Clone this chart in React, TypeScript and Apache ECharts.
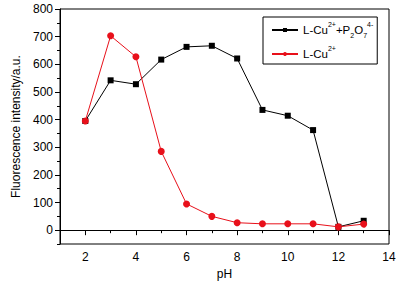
import React, { useEffect, useRef } from "react";
import * as echarts from "echarts";

const pH = [2, 3, 4, 5, 6, 7, 8, 9, 10, 11, 12, 13];
const withP2O7 = [395, 542, 528, 617, 663, 667, 621, 435, 414, 362, 12, 34];
const cuOnly = [395, 703, 627, 285, 95, 50, 27, 23, 23, 23, 12, 22];
const xMajor = [2, 4, 6, 8, 10, 12, 14];
const xMinor = [1, 3, 5, 7, 9, 11, 13];
const yMajor = [0, 100, 200, 300, 400, 500, 600, 700, 800];
const yMinor = [-50, 50, 150, 250, 350, 450, 550, 650, 750];
const nameA = "L-Cu2+ +P2O7 4-";
const nameB = "L-Cu2+";

export default function App() {
  const ref = useRef<HTMLDivElement>(null);
  useEffect(() => {
    if (!ref.current) return;
    const chart = echarts.init(ref.current, null, { renderer: "svg" });
    const font = "Liberation Sans, Arial, sans-serif";
    const axisCommon = {
      min: 1,
      max: 14,
      type: "value" as const,
    };
    chart.setOption({
      animation: false,
      textStyle: { fontFamily: font },
      grid: {
        left: 60,
        right: 19,
        top: 9,
        bottom: 41,
        show: true,
        borderColor: "#000",
        borderWidth: 1,
      },
      legend: {
        orient: "vertical",
        left: 263,
        top: 17,
        padding: [4, 4, 4, 8],
        itemGap: 6,
        itemWidth: 26,
        itemHeight: 5,
        backgroundColor: "#fff",
        borderColor: "#000",
        borderWidth: 1,
        borderRadius: 0,
        data: [nameA, nameB],
        formatter: (n: string) =>
          n === nameA
            ? "{b|L-Cu}{sup|2+}{b|+P}{sub|2}{b|O}{sub|7}{sup|4-}"
            : "{b|L-Cu}{sup|2+}",
        textStyle: {
          fontFamily: font,
          rich: {
            b: { fontSize: 11.5, lineHeight: 18, color: "#000", fontFamily: font },
            sup: { fontSize: 7, lineHeight: 9, verticalAlign: "top", color: "#000", fontFamily: font },
            sub: { fontSize: 7, lineHeight: 9, verticalAlign: "bottom", color: "#000", fontFamily: font },
          },
        },
      },
      xAxis: [
        {
          ...axisCommon,
          name: "pH",
          nameLocation: "middle",
          nameGap: 22,
          nameTextStyle: { fontSize: 12, color: "#000", fontFamily: font },
          axisLine: { lineStyle: { color: "#000", width: 1 } },
          axisTick: { show: true, length: 5, inside: false, customValues: xMajor, lineStyle: { color: "#000" } },
          axisLabel: { customValues: xMajor, fontSize: 12, color: "#000", margin: 7, fontFamily: font },
          splitLine: { show: false },
        },
        {
          ...axisCommon,
          position: "bottom",
          axisLine: { show: false },
          axisTick: { show: true, length: 3, customValues: xMinor, lineStyle: { color: "#000" } },
          axisLabel: { show: false },
          splitLine: { show: false },
        },
      ],
      yAxis: [
        {
          type: "value",
          min: -50,
          max: 800,
          name: "Fluorescence intensity/a.u.",
          nameLocation: "middle",
          nameGap: 38,
          nameTextStyle: { fontSize: 12, color: "#000", fontFamily: font },
          axisLine: { show: true, lineStyle: { color: "#000", width: 1 } },
          axisTick: { show: true, length: 5, customValues: yMajor, lineStyle: { color: "#000" } },
          axisLabel: { customValues: yMajor, fontSize: 12, color: "#000", margin: 7, fontFamily: font },
          splitLine: { show: false },
        },
        {
          type: "value",
          min: -50,
          max: 800,
          position: "left",
          axisLine: { show: false },
          axisTick: { show: true, length: 3, customValues: yMinor, lineStyle: { color: "#000" } },
          axisLabel: { show: false },
          splitLine: { show: false },
        },
      ],
      series: [
        {
          name: nameA,
          type: "line",
          data: pH.map((x, i) => [x, withP2O7[i]]),
          symbol: "rect",
          symbolSize: 6,
          color: "#000",
          lineStyle: { color: "#000", width: 1 },
          itemStyle: { color: "#000" },
        },
        {
          name: nameB,
          type: "line",
          data: pH.map((x, i) => [x, cuOnly[i]]),
          symbol: "circle",
          symbolSize: 7,
          color: "#e8101a",
          lineStyle: { color: "#e8101a", width: 1 },
          itemStyle: { color: "#e8101a" },
        },
      ],
    });
    return () => chart.dispose();
  }, []);
  return <div ref={ref} style={{ width: 408, height: 285, position: "absolute", left: 0, top: 0 }} />;
}
